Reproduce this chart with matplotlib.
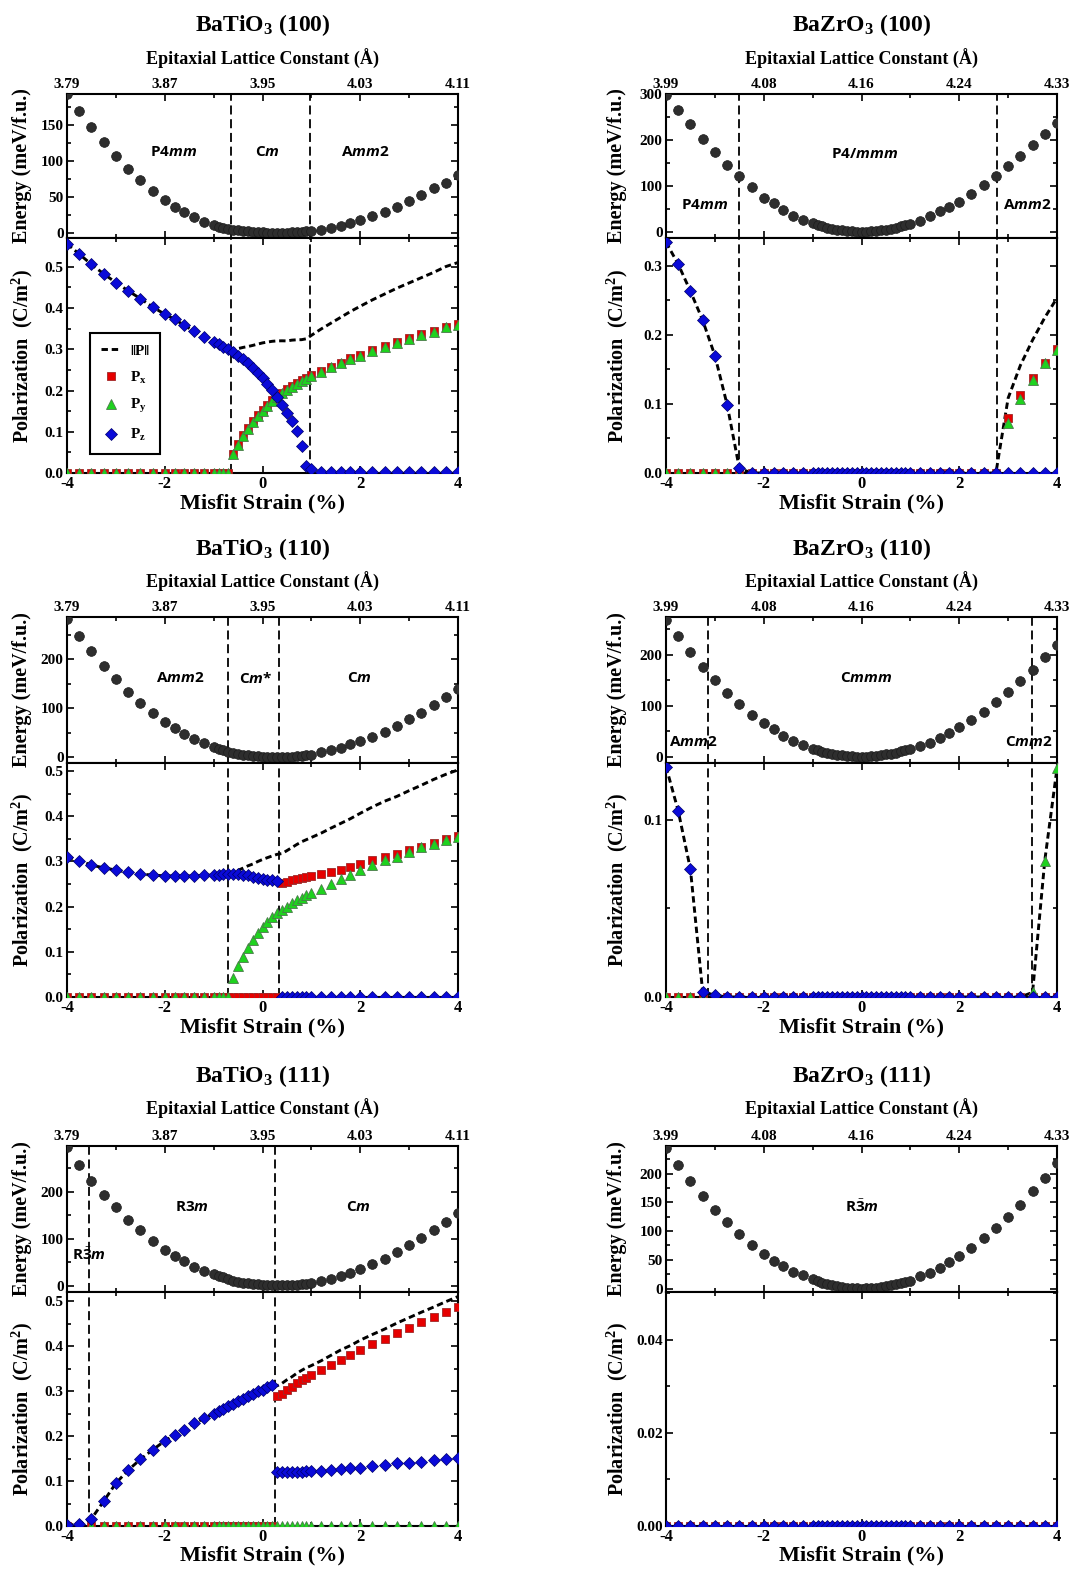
import numpy as np
import matplotlib
matplotlib.use('Agg')
import matplotlib.pyplot as plt
from matplotlib.ticker import MultipleLocator, FixedLocator, FixedFormatter, FormatStrFormatter
from matplotlib.lines import Line2D

plt.rcParams['font.family'] = ['Liberation Serif', 'DejaVu Serif']
plt.rcParams['font.weight'] = 'bold'
plt.rcParams['mathtext.fontset'] = 'custom'
plt.rcParams['mathtext.rm'] = 'Liberation Serif:bold'
plt.rcParams['mathtext.it'] = 'Open Sans:italic:bold'
plt.rcParams['mathtext.bf'] = 'Open Sans:bold'
plt.rcParams['axes.linewidth'] = 1.5
plt.rcParams['axes.unicode_minus'] = False

# ---------------- data ----------------
strain = [-4.0, -3.75, -3.5, -3.25, -3.0, -2.75, -2.5, -2.25, -2.0,
          -1.8, -1.6, -1.4, -1.2,
          -1.0, -0.9, -0.8, -0.7, -0.6, -0.5, -0.4, -0.3, -0.2, -0.1, 0.0,
          0.1, 0.2, 0.3, 0.4, 0.5, 0.6, 0.7, 0.8, 0.9, 1.0,
          1.2, 1.4, 1.6, 1.8,
          2.0, 2.25, 2.5, 2.75, 3.0, 3.25, 3.5, 3.75, 4.0]

strain_ticks = [-4, -2, 0, 2, 4]
lattice_BTO = ['3.79', '3.87', '3.95', '4.03', '4.11']
lattice_BZO = ['3.99', '4.08', '4.16', '4.24', '4.33']

# BaTiO3 (100)
E_BTO100 = [193, 170, 147, 126, 107, 89, 74, 58, 46,
            36, 29, 22, 15,
            10.6, 8.8, 7.4, 6.0, 4.8, 3.8, 2.9, 2.2, 1.6, 1.1, 0.7,
            0.4, 0.3, 0.3, 0.4, 0.6, 0.9, 1.3, 1.8, 2.4, 3.1,
            4.6, 6.5, 10, 13.5,
            17.6, 23, 29, 36, 44, 53, 62, 70, 80]
Px_BTO100 = [0, 0, 0, 0, 0, 0, 0, 0, 0,
             0, 0, 0, 0,
             0, 0, 0, 0, 0.047, 0.071, 0.092, 0.109, 0.125, 0.140, 0.153,
             0.165, 0.176, 0.186, 0.195, 0.203, 0.211, 0.218, 0.225, 0.231, 0.237,
             0.248, 0.258, 0.268, 0.278,
             0.287, 0.298, 0.308, 0.318, 0.327, 0.336, 0.345, 0.355, 0.362]
Py_BTO100 = [0, 0, 0, 0, 0, 0, 0, 0, 0,
             0, 0, 0, 0,
             0, 0, 0, 0, 0.045, 0.069, 0.090, 0.107, 0.123, 0.138, 0.151,
             0.163, 0.174, 0.184, 0.193, 0.201, 0.209, 0.216, 0.223, 0.229, 0.235,
             0.246, 0.256, 0.266, 0.276,
             0.285, 0.296, 0.306, 0.316, 0.325, 0.334, 0.343, 0.353, 0.360]
Pz_BTO100 = [0.556, 0.531, 0.506, 0.483, 0.462, 0.442, 0.423, 0.403, 0.385,
             0.373, 0.358, 0.344, 0.331,
             0.318, 0.312, 0.306, 0.300, 0.293, 0.285, 0.276, 0.266, 0.255, 0.243, 0.231,
             0.217, 0.202, 0.185, 0.166, 0.145, 0.125, 0.101, 0.065, 0.016, 0.010,
             0.003, 0.003, 0.003, 0.003,
             0.003, 0.003, 0.003, 0.003, 0.003, 0.003, 0.003, 0.003, 0.003]

# BaZrO3 (100)
E_BZO100 = [298, 266, 234, 203, 174, 146, 121, 97, 75,
            63, 48.5, 35.5, 27,
            19, 16, 12.3, 9.4, 7.2, 5.1, 3.6, 2.2, 1.4, 0.5, 0,
            0.5, 1.5, 2.5, 3.8, 5.2, 7.0, 9.5, 12.3, 15.5, 17.5,
            25, 35, 45, 54,
            66, 83, 103, 122, 143, 166, 189, 212, 237]
Px_BZO100 = [0] * 42 + [0.080, 0.113, 0.137, 0.159, 0.180]
Py_BZO100 = [0] * 42 + [0.073, 0.107, 0.135, 0.159, 0.178]
Pz_BZO100 = [0.334, 0.302, 0.263, 0.221, 0.170, 0.099, 0.007] + [0] * 40

# BaTiO3 (110)
E_BTO110 = [281, 248, 216, 186, 159, 133, 110, 90, 72,
            60, 47, 36, 28,
            20.5, 16.4, 13.7, 11, 9, 7, 5, 3.5, 2.5, 1.8, 1.2,
            0.8, 0.5, 0.3, 0.3, 0.5, 1.0, 1.7, 2.5, 3.5, 5.0,
            9.6, 13.7, 18.5, 26,
            32, 42, 52, 64, 77, 91, 107, 123, 140]
Px_BTO110 = [0] * 27 + [0.253, 0.255, 0.258, 0.261, 0.264, 0.266, 0.268,
                        0.272, 0.277, 0.282, 0.288,
                        0.294, 0.303, 0.310, 0.317, 0.325, 0.332, 0.342, 0.350, 0.357]
Py_BTO110 = [0] * 17 + [0.041, 0.068, 0.089, 0.109, 0.126, 0.142, 0.155,
                        0.166, 0.176, 0.185, 0.192, 0.200, 0.207, 0.214, 0.220, 0.225, 0.230,
                        0.240, 0.251, 0.261, 0.270,
                        0.281, 0.292, 0.303, 0.311, 0.321, 0.331, 0.339, 0.347, 0.354]
Pz_BTO110 = [0.311, 0.302, 0.292, 0.286, 0.281, 0.276, 0.272, 0.270, 0.268,
             0.268, 0.268, 0.268, 0.269,
             0.270, 0.271, 0.272, 0.272, 0.272, 0.272, 0.271, 0.269, 0.266, 0.264, 0.262,
             0.260, 0.258, 0.256] + [0] * 20

# BaZrO3 (110)
E_BZO110 = [269, 237, 206, 177, 150, 125, 104, 83, 66,
            54, 41, 32, 24,
            16.4, 13, 10.5, 8.5, 6.5, 4.6, 3.3, 2.0, 1.0, 0.3, 0,
            0.3, 1.0, 2.0, 3.3, 4.8, 6.5, 8.5, 10.8, 13.3, 16.4,
            22, 28, 37, 47,
            58, 73, 88.5, 107.5, 126.5, 148, 170.5, 195, 220]
Px_BZO110 = [0] * 47
Py_BZO110 = [0] * 44 + [0.0026, 0.077, 0.129]
Pz_BZO110 = [0.130, 0.105, 0.072, 0.003, 0.001] + [0] * 42

# BaTiO3 (111)
E_BTO111 = [294, 257, 223, 194, 167, 140, 118, 96, 77,
            64, 52, 40, 32,
            25, 21, 18, 14, 11.3, 9.2, 7, 5.7, 4.3, 3.5, 2.8,
            2.3, 2.0, 1.8, 1.8, 2.0, 2.3, 2.8, 3.5, 4.6, 5.8,
            10.6, 15, 22, 28,
            35, 47.5, 58, 72, 86.5, 100.7, 118, 136, 155]
Px_BTO111 = [0] * 26 + [0.288, 0.294, 0.302, 0.309, 0.317, 0.324, 0.330, 0.335,
                        0.346, 0.358, 0.370, 0.380,
                        0.392, 0.404, 0.416, 0.429, 0.441, 0.453, 0.464, 0.476, 0.487]
Py_BTO111 = [0] * 47
Pz_BTO111 = [0.002, 0.004, 0.016, 0.055, 0.095, 0.124, 0.148, 0.169, 0.189,
             0.202, 0.214, 0.228, 0.239,
             0.250, 0.255, 0.261, 0.266, 0.271, 0.277, 0.283, 0.288, 0.294, 0.299, 0.303,
             0.308, 0.313, 0.119, 0.119, 0.120, 0.120, 0.121, 0.121, 0.122, 0.122,
             0.123, 0.125, 0.127, 0.128,
             0.130, 0.134, 0.136, 0.139, 0.141, 0.143, 0.146, 0.148, 0.151]

# BaZrO3 (111)
E_BZO111 = [245, 214.5, 187, 161, 136, 115, 95, 76, 60,
            48, 39, 29, 23,
            16, 13.4, 10.5, 8.2, 6.4, 4.7, 2.9, 1.7, 0.9, 0.3, 0,
            0.3, 0.9, 1.7, 2.9, 4.3, 6.0, 7.8, 9.7, 12, 14,
            21, 27.4, 36, 45.5,
            56.5, 70.5, 87.5, 105.5, 124, 146, 169, 192, 219]
Px_BZO111 = [0] * 47
Py_BZO111 = [0] * 47
Pz_BZO111 = [0] * 47

titles = ['BaTiO$_\\mathrm{3}$ (100)', 'BaZrO$_\\mathrm{3}$ (100)',
          'BaTiO$_\\mathrm{3}$ (110)', 'BaZrO$_\\mathrm{3}$ (110)',
          'BaTiO$_\\mathrm{3}$ (111)', 'BaZrO$_\\mathrm{3}$ (111)']

bounds_BTO100 = [-0.65, 0.98]
bounds_BZO100 = [-2.5, 2.78]
bounds_BTO110 = [-0.7, 0.34]
bounds_BZO110 = [-3.15, 3.48]
bounds_BTO111 = [-3.54, 0.25]
bounds_BZO111 = []

phases_BTO100 = [('P4$\\mathit{mm}$', -1.82, 113), ('C$\\mathit{m}$', 0.1, 113), ('A$\\mathit{mm}$2', 2.11, 113)]
phases_BZO100 = [('P4$\\mathit{mm}$', -3.21, 58), ('P4/$\\mathit{mmm}$', 0.06, 170), ('A$\\mathit{mm}$2', 3.39, 58)]
phases_BTO110 = [('A$\\mathit{mm}$2', -1.69, 161), ('C$\\mathit{m}$*', -0.13, 161), ('C$\\mathit{m}$', 1.99, 161)]
phases_BZO110 = [('A$\\mathit{mm}$2', -3.44, 29.5), ('C$\\mathit{mmm}$', 0.09, 154), ('C$\\mathit{mm}$2', 3.43, 29.5)]
phases_BTO111 = [('R$\\bar{\\mathbf{3}}\\mathit{m}$', -3.56, 67), ('R3$\\mathit{m}$', -1.45, 168), ('C$\\mathit{m}$', 1.96, 168)]
phases_BZO111 = [('R$\\bar{\\mathbf{3}}\\mathit{m}$', 0.0, 142)]

# ---------------- layout ----------------
W, H = 1073, 1572
fig = plt.figure(figsize=(W / 100, H / 100), dpi=100)

def fx(px):
    return px / W

def fy(py):
    return 1 - py / H

col_left = [67, 666]
col_w = 391
row_top = [94, 617, 1146]
row_mid = [238, 763, 1292]
row_bot = [473, 997, 1526]
title_y = [25, 549, 1076]
epi_y = [59, 582, 1109]
xlab_y = [503, 1027, 1555]
ylab_x = [22, 617]

panels = [
    dict(E=E_BTO100, Px=Px_BTO100, Py=Py_BTO100, Pz=Pz_BTO100, lat=lattice_BTO,
         eylim=(-7, 193), emaj=50, emin=25, pylim=(0, 0.57), pmaj=0.1, pmin=0.05, pfmt='%.1f',
         bounds=bounds_BTO100, phases=phases_BTO100, legend=True),
    dict(E=E_BZO100, Px=Px_BZO100, Py=Py_BZO100, Pz=Pz_BZO100, lat=lattice_BZO,
         eylim=(-13, 300), emaj=100, emin=50, pylim=(0, 0.34), pmaj=0.1, pmin=0.05, pfmt='%.1f',
         bounds=bounds_BZO100, phases=phases_BZO100, legend=False),
    dict(E=E_BTO110, Px=Px_BTO110, Py=Py_BTO110, Pz=Pz_BTO110, lat=lattice_BTO,
         eylim=(-12, 286), emaj=100, emin=50, pylim=(0, 0.518), pmaj=0.1, pmin=0.05, pfmt='%.1f',
         bounds=bounds_BTO110, phases=phases_BTO110, legend=False),
    dict(E=E_BZO110, Px=Px_BZO110, Py=Py_BZO110, Pz=Pz_BZO110, lat=lattice_BZO,
         eylim=(-12, 274), emaj=100, emin=50, pylim=(0, 0.132), pmaj=0.1, pmin=0.05, pfmt='%.1f',
         bounds=bounds_BZO110, phases=phases_BZO110, legend=False),
    dict(E=E_BTO111, Px=Px_BTO111, Py=Py_BTO111, Pz=Pz_BTO111, lat=lattice_BTO,
         eylim=(-13, 297), emaj=100, emin=50, pylim=(0, 0.52), pmaj=0.1, pmin=0.05, pfmt='%.1f',
         bounds=bounds_BTO111, phases=phases_BTO111, legend=False),
    dict(E=E_BZO111, Px=Px_BZO111, Py=Py_BZO111, Pz=Pz_BZO111, lat=lattice_BZO,
         eylim=(-6, 248), emaj=50, emin=25, pylim=(0, 0.0503), pmaj=0.02, pmin=0.01, pfmt='%.2f',
         bounds=bounds_BZO111, phases=phases_BZO111, legend=False),
]

RED, GREEN, BLUE, GREY = '#e60000', '#1ed21e', '#0a0ad8', '#2e2e2e'
DASH = (2.2, 1.3)
MS_C, MS_S, MS_T, MS_D = 7.0, 5.8, 7.0, 6.6
x = np.array(strain)

for i, p in enumerate(panels):
    r, c = divmod(i, 2)
    L = fx(col_left[c])
    w = col_w / W
    ax_e = fig.add_axes([L, fy(row_mid[r]), w, (row_mid[r] - row_top[r]) / H])
    ax_p = fig.add_axes([L, fy(row_bot[r]), w, (row_bot[r] - row_mid[r]) / H])

    # energy
    ax_e.plot(x, p['E'], 'o', ms=MS_C, mfc=GREY, mec='#1c1c1c', mew=0.5, zorder=3)
    ax_e.set_xlim(-4, 4)
    ax_e.set_ylim(*p['eylim'])
    ax_e.xaxis.set_major_locator(FixedLocator(strain_ticks))
    ax_e.xaxis.set_major_formatter(FixedFormatter(p['lat']))
    ax_e.xaxis.set_minor_locator(MultipleLocator(1))
    ax_e.yaxis.set_major_locator(MultipleLocator(p['emaj']))
    ax_e.yaxis.set_minor_locator(MultipleLocator(p['emin']))
    ax_e.yaxis.set_major_formatter(FormatStrFormatter('%d'))
    ax_e.tick_params(axis='x', which='both', direction='in', top=True, bottom=True,
                     labeltop=True, labelbottom=False, labelsize=11, pad=2.5)
    ax_e.tick_params(axis='y', which='both', direction='in', left=True, right=True,
                     labelsize=11, pad=2.5)

    # polarization
    Px = np.array(p['Px']); Py = np.array(p['Py']); Pz = np.array(p['Pz'])
    Pn = np.sqrt(Px ** 2 + Py ** 2 + Pz ** 2)
    ax_p.plot(x, Pn, color='k', lw=2.1, ls='--', dashes=DASH, zorder=2)
    ax_p.plot(x, Px, 's', ms=MS_S, mfc=RED, mec='#a02828', mew=0.6, zorder=3)
    ax_p.plot(x, Py, '^', ms=MS_T, mfc=GREEN, mec='#4a7a4a', mew=0.6, zorder=4)
    ax_p.plot(x, Pz, 'D', ms=MS_D, mfc=BLUE, mec='#00006a', mew=0.5, zorder=5)
    ax_p.set_xlim(-4, 4)
    ax_p.set_ylim(*p['pylim'])
    ax_p.xaxis.set_major_locator(FixedLocator(strain_ticks))
    ax_p.xaxis.set_minor_locator(MultipleLocator(1))
    ax_p.xaxis.set_major_formatter(FormatStrFormatter('%d'))
    ax_p.yaxis.set_major_locator(MultipleLocator(p['pmaj']))
    ax_p.yaxis.set_minor_locator(MultipleLocator(p['pmin']))
    ax_p.yaxis.set_major_formatter(FormatStrFormatter(p['pfmt']))
    ax_p.tick_params(axis='x', which='both', direction='in', top=True, bottom=True,
                     labelsize=12, pad=2.5)
    ax_p.tick_params(axis='y', which='both', direction='in', left=True, right=True,
                     labelsize=11, pad=2.5)

    for ax in (ax_e, ax_p):
        ax.tick_params(which='major', length=5, width=1.2)
        ax.tick_params(which='minor', length=3, width=1.2)
        for b in p['bounds']:
            ax.axvline(b, color='k', lw=1.3, ls='--', dashes=(5, 2.6), zorder=1.5)

    for lab, px_, py_ in p['phases']:
        ax_e.text(px_, py_, lab, fontfamily='Open Sans', fontweight='bold', fontsize=11,
                  ha='center', va='center', zorder=6)

    if p['legend']:
        handles = [Line2D([], [], color='k', lw=2.1, ls='--', dashes=DASH),
                   Line2D([], [], marker='s', ls='none', ms=MS_S, mfc=RED, mec='#a02828', mew=0.6),
                   Line2D([], [], marker='^', ls='none', ms=MS_T, mfc=GREEN, mec='#4a7a4a', mew=0.6),
                   Line2D([], [], marker='D', ls='none', ms=MS_D, mfc=BLUE, mec='#00006a', mew=0.5)]
        labels = ['\u2016P\u2016', 'P$_\\mathrm{x}$', 'P$_\\mathrm{y}$', 'P$_\\mathrm{z}$']
        leg = ax_p.legend(handles, labels, loc='lower left', bbox_to_anchor=(0.059, 0.081),
                          borderaxespad=0, fancybox=False, framealpha=1, edgecolor='k',
                          prop={'family': ['Liberation Serif', 'DejaVu Serif'], 'weight': 'bold', 'size': 11},
                          handlelength=1.3, labelspacing=0.75, handletextpad=0.6,
                          borderpad=0.7)
        leg.get_frame().set_linewidth(1.5)

    cx = col_left[c] + col_w / 2
    fig.text(fx(cx), fy(title_y[r]), titles[i], ha='center', va='center', fontsize=17, fontweight='bold')
    fig.text(fx(cx), fy(epi_y[r]), 'Epitaxial Lattice Constant (\u00c5)', ha='center', va='center',
             fontsize=13, fontweight='bold')
    fig.text(fx(cx), fy(xlab_y[r]), 'Misfit Strain (%)', ha='center', va='center',
             fontsize=16, fontweight='bold')
    fig.text(fx(ylab_x[c]), fy((row_top[r] + row_mid[r]) / 2), 'Energy (meV/f.u.)',
             rotation=90, ha='center', va='center', fontsize=14.5, fontweight='bold')
    fig.text(fx(ylab_x[c]), fy((row_mid[r] + row_bot[r]) / 2), 'Polarization  (C/m$^{\\mathrm{2}}$)',
             rotation=90, ha='center', va='center', fontsize=14.5, fontweight='bold')

fig.savefig('out.png', dpi=100)
